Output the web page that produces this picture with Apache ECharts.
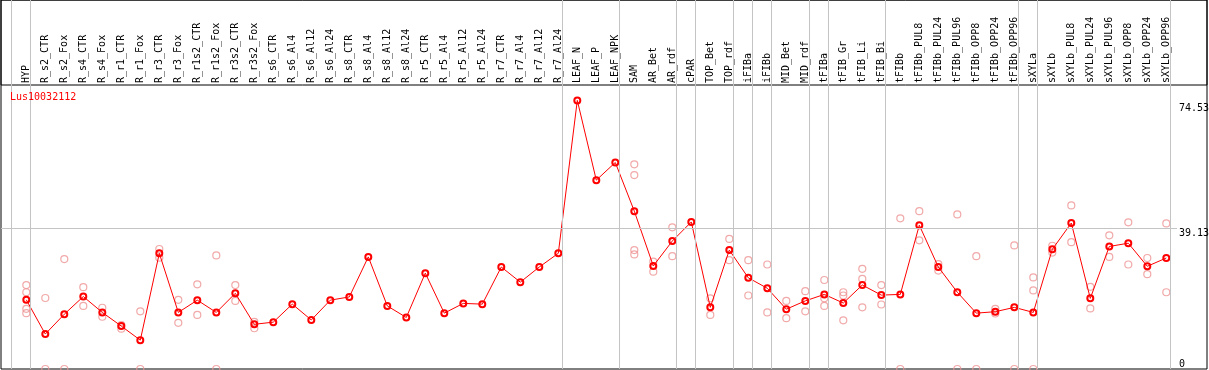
<!DOCTYPE html>
<html>
<head>
<meta charset="utf-8">
<script src="https://cdn.jsdelivr.net/npm/echarts@6/dist/echarts.min.js"></script>
<style>
html,body{margin:0;padding:0;background:#fff;}
#chart{width:1209px;height:370px;}
</style>
</head>
<body>
<div id="chart"></div>
<script>
const geneName = 'Lus10032112';
const categories = ['HYP','R_s2_CTR','R_s2_Fox','R_s4_CTR','R_s4_Fox','R_r1_CTR','R_r1_Fox','R_r3_CTR','R_r3_Fox','R_r1s2_CTR','R_r1s2_Fox','R_r3s2_CTR','R_r3s2_Fox','R_s6_CTR','R_s6_Al4','R_s6_Al12','R_s6_Al24','R_s8_CTR','R_s8_Al4','R_s8_Al12','R_s8_Al24','R_r5_CTR','R_r5_Al4','R_r5_Al12','R_r5_Al24','R_r7_CTR','R_r7_Al4','R_r7_Al12','R_r7_Al24','LEAF_N','LEAF_P','LEAF_NPK','SAM','AR_Bet','AR_rdf','cPAR','TOP_Bet','TOP_rdf','iFIBa','iFIBb','MID_Bet','MID_rdf','tFIBa','tFIB_Gr','tFIB_Li','tFIB_Bi','tFIBb','tFIBb_PUL8','tFIBb_PUL24','tFIBb_PUL96','tFIBb_OPP8','tFIBb_OPP24','tFIBb_OPP96','sXYLa','sXYLb','sXYLb_PUL8','sXYLb_PUL24','sXYLb_PUL96','sXYLb_OPP8','sXYLb_OPP24','sXYLb_OPP96'];
const meanValues = [19.2,9.7,15.2,20.1,15.7,11.9,8.0,32.1,15.7,19.1,15.7,21.0,12.4,13.0,18.0,13.6,19.1,20.0,31.1,17.5,14.3,26.6,15.5,18.2,18.0,28.3,24.1,28.3,32.1,74.53,52.4,57.3,43.8,28.6,35.5,40.8,17.1,33.0,25.3,22.4,16.6,18.9,20.7,18.3,23.3,20.5,20.7,39.9,28.3,21.3,15.5,15.9,17.1,15.7,33.2,40.5,19.6,34.0,34.9,28.5,30.8];
const replicateValues = [
  [23.3,21.3,16.7,15.5],[19.7,0],[30.5,0],[22.7,17.5],[17.0,14.5],[12.2,11.2],[16.0,0],[33.3,30.9],[19.2,12.8],[23.5,15.0],
  [31.5,0],[23.3,18.9],[13.1,11.3],[],[],[],[],[],[],[],
  [],[],[],[],[],[],[],[],[],[],
  [],[],[56.8,53.8,33.0,31.8],[29.8,27.0],[39.3,31.3],[],[19.6,15.0],[36.1,30.2],[30.2,20.4],[29.0,15.7],
  [18.9,14.1],[21.6,16.0],[24.7,19.6,17.5],[21.3,20.4,13.5],[27.8,25.0,17.1],[23.3,17.9],[41.8,0],[43.8,35.7],[29.1,27.3],[42.9,0],
  [31.3,0],[16.7,15.4],[34.3,0],[25.4,21.8,0],[34.2,32.3],[45.4,35.2],[22.8,16.8],[37.1,31.1],[40.7,29.0],[30.8,26.3],
  [40.4,21.3]
];
const yMaxLabel = [74.53];
const yMidLabel = [39.13];
const yZeroLabel = [0];
const gridValue = 39.13;
const groupEnds = [-1,0,28,31,34,35,37,38,39,41,42,45,52,53,60];

// layout constants
const W = 1209, H = 370;
const step = 19, firstCenter = 26.3;
const frameL = 1, frameR = 1207, plotTop = 85, plotBottom = 369, plotRight = 1177;
const yMax = 78.8;
const FONT = 'DejaVu Sans Mono';
const sepOffset = 0.22;

const xMinFrame = (frameL - firstCenter) / step;
const xMaxFrame = (frameR - firstCenter) / step;
const xMaxPlot = (plotRight - firstCenter) / step;
const catLeft = firstCenter - step / 2;
const catRight = W - (catLeft + step * categories.length);

const scatterData = [];
replicateValues.forEach((arr, i) => arr.forEach(v => scatterData.push([categories[i], v])));

function labelAxis(values, vAlign, pad) {
  return {gridIndex: 2, type: 'value', min: 0, max: yMax, position: 'right',
    axisLine: {show: false}, axisTick: {show: false}, splitLine: {show: false},
    axisLabel: {customValues: values, margin: 2, align: 'left', verticalAlign: vAlign, padding: pad,
      color: '#000', fontSize: 10, fontFamily: FONT, formatter: v => String(v)}};
}

const chart = echarts.init(document.getElementById('chart'), null, {renderer: 'canvas'});
const option = {
  animation: false,
  backgroundColor: '#fff',
  title: {
    text: geneName, left: 10, top: 92, padding: 0,
    textStyle: {color: '#ff0000', fontSize: 10, fontWeight: 'normal', fontFamily: FONT}
  },
  grid: [
    {left: frameL, right: W - frameR, top: 0, bottom: H - plotBottom, show: true, borderColor: '#000', borderWidth: 1, backgroundColor: 'transparent', outerBoundsMode: 'none'},
    {left: frameL, right: W - frameR, top: 0, height: plotTop, show: true, borderColor: '#000', borderWidth: 1, backgroundColor: 'transparent', outerBoundsMode: 'none'},
    {left: frameL, right: W - plotRight, top: plotTop, bottom: H - plotBottom, outerBoundsMode: 'none'},
    {left: catLeft, right: catRight, top: plotTop, bottom: H - plotBottom, outerBoundsMode: 'none'}
  ],
  xAxis: [
    {gridIndex: 0, type: 'value', min: xMinFrame, max: xMaxFrame, show: false},
    {gridIndex: 1, type: 'value', min: 0, max: 1, show: false},
    {gridIndex: 2, type: 'value', min: xMinFrame, max: xMaxPlot, show: false},
    {gridIndex: 3, type: 'category', position: 'top', data: categories, boundaryGap: true,
      axisLine: {show: false}, axisTick: {show: false}, splitLine: {show: false},
      axisLabel: {interval: 0, rotate: 90, margin: 2, color: '#000', fontSize: 10, fontFamily: FONT}}
  ],
  yAxis: [
    {gridIndex: 0, type: 'value', min: 0, max: 1, show: false},
    {gridIndex: 1, type: 'value', min: 0, max: 1, show: false},
    labelAxis(yMaxLabel, 'top', [3, 0, 0, 0]),
    labelAxis(yMidLabel, 'top', [0, 0, 0, 0]),
    labelAxis(yZeroLabel, 'bottom', [0, 0, 0, 0]),
    {gridIndex: 3, type: 'value', min: 0, max: yMax, show: false}
  ],
  series: [
    {
      type: 'line', xAxisIndex: 0, yAxisIndex: 0, data: [], silent: true, symbol: 'none',
      markLine: {silent: true, symbol: 'none', label: {show: false},
        lineStyle: {color: '#c4c4c4', width: 1, type: 'solid'},
        data: groupEnds.map(i => ({xAxis: i + sepOffset}))}
    },
    {
      type: 'line', xAxisIndex: 2, yAxisIndex: 2, data: [], silent: true, symbol: 'none',
      markLine: {silent: true, symbol: 'none', label: {show: false},
        lineStyle: {color: '#c4c4c4', width: 1, type: 'solid'},
        data: [{yAxis: gridValue}]}
    },
    {
      type: 'scatter', xAxisIndex: 3, yAxisIndex: 5, data: scatterData, symbol: 'circle', symbolSize: 7,
      clip: false, z: 3,
      itemStyle: {color: 'rgba(0,0,0,0)', borderColor: '#ee9494', borderWidth: 1.2}
    },
    {
      type: 'line', xAxisIndex: 3, yAxisIndex: 5, data: meanValues, symbol: 'circle', symbolSize: 6, showAllSymbol: true,
      z: 4,
      lineStyle: {color: '#ff0000', width: 1},
      itemStyle: {color: 'rgba(0,0,0,0)', borderColor: '#ff0000', borderWidth: 2}
    }
  ]
};
chart.setOption(option);
</script>
</body>
</html>
